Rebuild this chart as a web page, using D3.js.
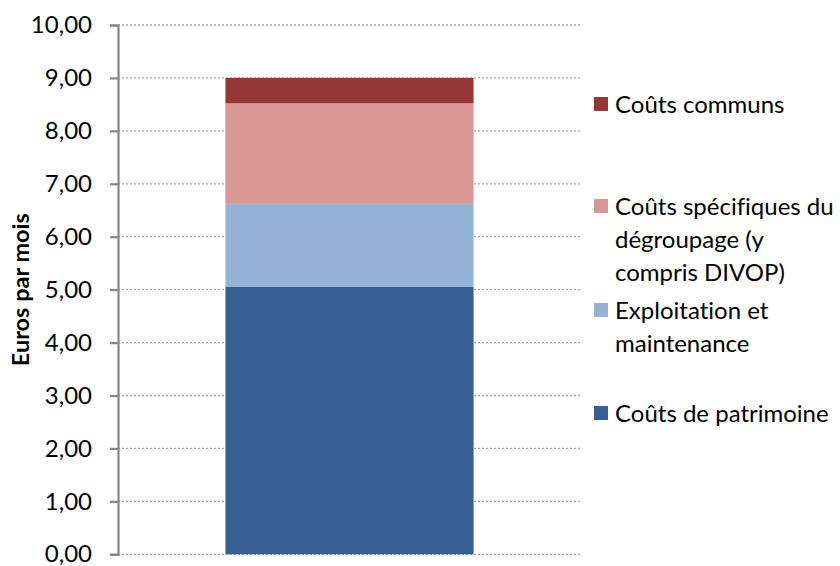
<!DOCTYPE html>
<html>
<head>
<meta charset="utf-8">
<script src="https://cdn.jsdelivr.net/npm/d3@7"></script>
<style>
  html, body { margin: 0; padding: 0; background: #fff; }
  svg { display: block; font-family: Lato, "Open Sans", sans-serif; font-variant-ligatures: none; font-feature-settings: "liga" 0, "dlig" 0; }
</style>
</head>
<body>
<svg id="chart" width="840" height="566"></svg>
<script>
// Cost components of the monthly line price, stacked from bottom to top
const components = ["Coûts de patrimoine", "Exploitation et maintenance", "Coûts spécifiques du dégroupage (y compris DIVOP)", "Coûts communs"];
const values = [5.05, 1.57, 1.90, 0.48];
const colors = ["#366092", "#95B3D7", "#DA9694", "#963634"];
const yTicks = [0, 1, 2, 3, 4, 5, 6, 7, 8, 9, 10];
const yTitle = "Euros par mois";

// Legend entries, top to bottom, with their wrapped lines
const legendLines = [
  ["Coûts communs"],
  ["Coûts spécifiques du", "dégroupage (y", "compris DIVOP)"],
  ["Exploitation et", "maintenance"],
  ["Coûts de patrimoine"]
];
const legendColors = ["#963634", "#DA9694", "#95B3D7", "#366092"];

const svg = d3.select("#chart");
const plot = { left: 118, right: 581, top: 25, bottom: 554.3 };

const y = d3.scaleLinear().domain([0, 10]).range([plot.bottom, plot.top]);
const x = d3.scaleBand().domain(["total"]).range([plot.left, plot.right]).paddingInner(0).paddingOuter(0.433);

// Dotted horizontal gridlines
svg.append("g")
  .selectAll("line")
  .data(yTicks)
  .join("line")
  .attr("x1", plot.left).attr("x2", plot.right)
  .attr("y1", d => y(d)).attr("y2", d => y(d))
  .attr("stroke", "#A6A6A6")
  .attr("stroke-width", 1.3)
  .attr("stroke-dasharray", "2,2");

// Stacked bar
let base = 0;
const stacked = values.map((v, i) => { const s = { y0: base, y1: base + v, color: colors[i] }; base += v; return s; });
svg.append("g")
  .selectAll("rect")
  .data(stacked)
  .join("rect")
  .attr("x", x("total"))
  .attr("width", x.bandwidth())
  .attr("y", d => y(d.y1))
  .attr("height", d => y(d.y0) - y(d.y1))
  .attr("fill", d => d.color);

// Y axis
const fmt = d => d3.format(".2f")(d).replace(".", ",");
const axis = svg.append("g")
  .attr("transform", `translate(${plot.left},0)`)
  .call(d3.axisLeft(y).tickValues(yTicks).tickFormat(fmt).tickSize(8).tickPadding(18));
axis.select(".domain").attr("stroke", "#868686").attr("stroke-width", 2.2);
axis.selectAll(".tick line").attr("stroke", "#868686").attr("stroke-width", 2.2);
axis.selectAll(".tick text")
  .attr("fill", "#000")
  .style("font-family", "Lato, 'Open Sans', sans-serif")
  .style("font-size", "24px");

// Y axis title
svg.append("text")
  .attr("transform", `translate(29,${(plot.top + plot.bottom) / 2}) rotate(-90)`)
  .attr("text-anchor", "middle")
  .style("font-size", "23.5px")
  .style("font-weight", "bold")
  .attr("fill", "#000")
  .text(yTitle);

// Legend
const legendRowY = [104, 206, 310, 413];
const lineGap = 33;
const legend = svg.append("g");
legendLines.forEach((lines, i) => {
  const cy = legendRowY[i];
  legend.append("rect")
    .attr("x", 594).attr("y", cy - 7)
    .attr("width", 14).attr("height", 14)
    .attr("fill", legendColors[i]);
  lines.forEach((ln, j) => {
    legend.append("text")
      .attr("x", 615)
      .attr("y", cy + j * lineGap)
      .attr("dy", "0.36em")
      .style("font-size", "24px")
      .attr("fill", "#000")
      .text(ln);
  });
});
</script>
</body>
</html>
